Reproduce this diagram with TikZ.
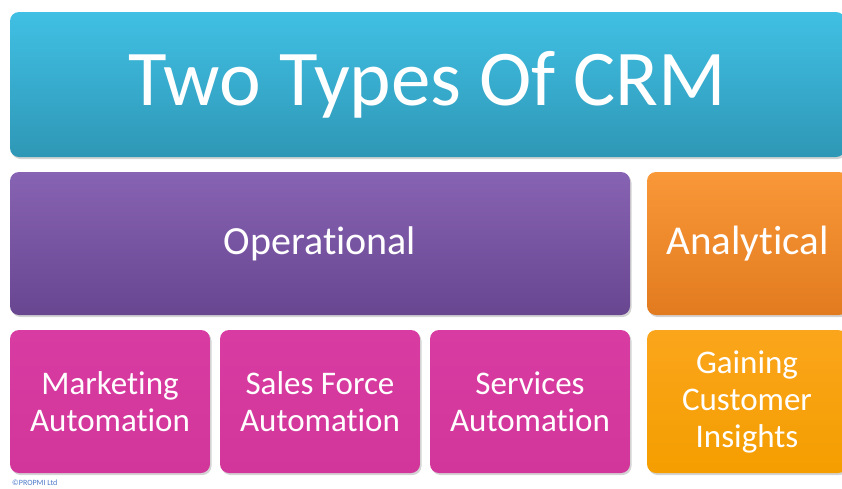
\documentclass[tikz,border=0pt]{standalone}
\usepackage{fontspec}
\setmainfont{Carlito}[RawFeature=-liga]
\usetikzlibrary{shadows}
\definecolor{cyanT}{HTML}{40C0E4}
\definecolor{cyanB}{HTML}{2F97B6}
\definecolor{purT}{HTML}{8763B3}
\definecolor{purB}{HTML}{684690}
\definecolor{orT}{HTML}{F99838}
\definecolor{orB}{HTML}{E27B1F}
\definecolor{pinkT}{HTML}{D83CA2}
\definecolor{pinkB}{HTML}{D2369A}
\definecolor{yoT}{HTML}{FBA51C}
\definecolor{yoB}{HTML}{F49E00}
\definecolor{copy}{HTML}{4A78C8}
\tikzset{
  tile/.style={rounded corners=9pt, inner sep=0pt, text=white, align=center,
    drop shadow={opacity=0.35, shadow xshift=1.5pt, shadow yshift=-2pt},
    font=\fontsize{33}{37}\selectfont},
}
\begin{document}
\begin{tikzpicture}[x=1pt,y=-1pt]
\useasboundingbox (0,0) rectangle (842,488);
\clip (0,0) rectangle (842,488);
\node[tile, top color=cyanT, bottom color=cyanB, minimum width=835pt, minimum height=145pt,
  font=\fontsize{79}{90}\selectfont] (title) at (427.5,84.5) {Two Types Of CRM};
\node[tile, top color=purT, bottom color=purB, minimum width=620pt, minimum height=143pt,
  font=\fontsize{40}{48}\selectfont] (oper) at (320,243.5) {Operational};
\node[tile, top color=orT, bottom color=orB, minimum width=201pt, minimum height=143pt,
  font=\fontsize{41}{48}\selectfont] (anal) at (747.5,243.5) {Analytical};
\node[tile, top color=pinkT, bottom color=pinkB, minimum width=200pt, minimum height=143pt] (mark) at (110,401.5) {Marketing\\Automation};
\node[tile, top color=pinkT, bottom color=pinkB, minimum width=200pt, minimum height=143pt] (sales) at (320,401.5) {Sales Force\\Automation};
\node[tile, top color=pinkT, bottom color=pinkB, minimum width=200pt, minimum height=143pt] (serv) at (530,401.5) {Services\\Automation};
\node[tile, top color=yoT, bottom color=yoB, minimum width=200pt, minimum height=143pt] (gain) at (747,401.5) {Gaining\\Customer\\Insights};
\node[anchor=west, inner sep=0pt, text=copy, font=\fontsize{8}{9}\selectfont] (cr) at (12,482.5) {©PROPMI Ltd};
\end{tikzpicture}
\end{document}
